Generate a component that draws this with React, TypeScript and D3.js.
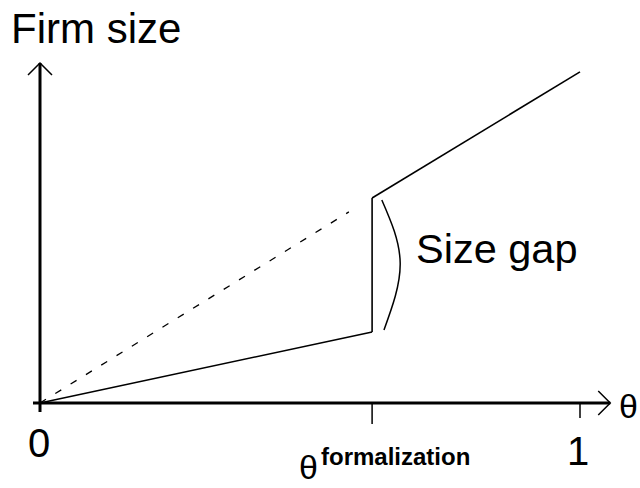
import React from 'react';
import * as d3 from 'd3';

// theta position of the formalization threshold
const thetaF = 0.615;

// informal segment (below threshold) and formal segment (above)
const informalLine = [
  { t: 0, size: 0 },
  { t: thetaF, size: 0.209 },
];
const formalLine = [
  { t: thetaF, size: 0.603 },
  { t: 1, size: 0.974 },
];
// jump at threshold
const jumpLine = [
  { t: thetaF, size: 0.209 },
  { t: thetaF, size: 0.603 },
];
// counterfactual: formal slope extended back to the origin
const dashedLine = [
  { t: 0, size: 0 },
  { t: 0.572, size: 0.562 },
];
// bracket marking the gap
const bracePoints = [
  { t: 0.633, size: 0.597 },
  { t: 0.667, size: 0.412 },
  { t: 0.637, size: 0.215 },
];

const xTicks = [
  { t: 0, label: '0', len: 8 },
  { t: thetaF, label: '', len: 21 },
  { t: 1, label: '1', len: 15 },
];

const font = "'Liberation Sans', Arial, sans-serif";

const App = () => {
  const width = 640;
  const height = 488;

  const x = d3.scaleLinear().domain([0, 1]).range([40, 580]);
  const y = d3.scaleLinear().domain([0, 1]).range([403, 63]);

  const line = d3
    .line<{ t: number; size: number }>()
    .x(d => x(d.t))
    .y(d => y(d.size));

  const curve = d3
    .line<{ t: number; size: number }>()
    .x(d => x(d.t))
    .y(d => y(d.size))
    .curve(d3.curveNatural);

  const xEnd = x(1.056);
  const yEnd = y(1);

  return (
    <svg
      width={width}
      height={height}
      style={{ position: 'absolute', left: 0, top: 0, background: '#fff' }}
    >
      {/* axes */}
      <line x1={x(0) - 7} y1={y(0)} x2={xEnd} y2={y(0)} stroke="#000" strokeWidth={3} />
      <line x1={x(0)} y1={y(0) + 9} x2={x(0)} y2={yEnd} stroke="#000" strokeWidth={3} />
      <path
        d={`M${xEnd - 12},${y(0) - 12}L${xEnd},${y(0)}L${xEnd - 12},${y(0) + 12}`}
        fill="none"
        stroke="#000"
        strokeWidth={1.5}
      />
      <path
        d={`M${x(0) - 12},${yEnd + 12}L${x(0)},${yEnd}L${x(0) + 12},${yEnd + 12}`}
        fill="none"
        stroke="#000"
        strokeWidth={1.5}
      />

      {xTicks
        .filter(d => d.t > 0)
        .map((d, i) => (
          <line
            key={i}
            x1={x(d.t)}
            x2={x(d.t)}
            y1={y(0)}
            y2={y(0) + d.len}
            stroke="#000"
            strokeWidth={1.5}
          />
        ))}

      {/* curves */}
      <path d={line(dashedLine) ?? ''} fill="none" stroke="#000" strokeWidth={1.3} strokeDasharray="7 11" />
      <path d={line(informalLine) ?? ''} fill="none" stroke="#000" strokeWidth={1.6} />
      <path d={line(jumpLine) ?? ''} fill="none" stroke="#000" strokeWidth={1.6} />
      <path d={line(formalLine) ?? ''} fill="none" stroke="#000" strokeWidth={1.6} />
      <path d={curve(bracePoints) ?? ''} fill="none" stroke="#000" strokeWidth={1.5} />

      {/* labels */}
      <text x={11} y={43} fontFamily={font} fontSize={42} fill="#000">
        Firm size
      </text>
      <text x={416} y={263} fontFamily={font} fontSize={41.5} fill="#000">
        Size gap
      </text>
      {xTicks
        .filter(d => d.label)
        .map((d, i) => (
          <text
            key={i}
            x={x(d.t) + (d.t === 0 ? -1 : -2)}
            y={d.t === 0 ? 457 : 465}
            textAnchor="middle"
            fontFamily={font}
            fontSize={40}
            fill="#000"
          >
            {d.label}
          </text>
        ))}
      <text x={619} y={418} fontFamily={font} fontSize={34} fill="#000">
        θ
      </text>
      <text x={299} y={479} fontFamily={font} fontSize={34} fill="#000">
        θ
      </text>
      <text x={321} y={465} fontFamily={font} fontSize={24} fontWeight="bold" fill="#000">
        formalization
      </text>
    </svg>
  );
};

export default App;
